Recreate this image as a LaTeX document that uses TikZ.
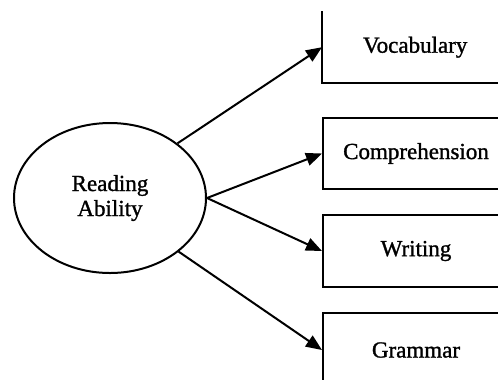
\documentclass[tikz,border=0pt]{standalone}
\usepackage{fontspec}
\setmainfont{Liberation Serif}[FakeBold=1.2]
\usetikzlibrary{arrows.meta,shapes.geometric}
\begin{document}
\begin{tikzpicture}[x=1bp,y=-1bp,
  every node/.style={font=\fontsize{23bp}{25bp}\selectfont},
  boxnode/.style={rectangle,minimum width=186bp,inner sep=0pt,anchor=north west},
  edge box/.style={draw,line width=2bp},
  conn/.style={line width=2bp,-{Triangle[length=16bp,width=13bp]}}]
\useasboundingbox (0,0) rectangle (498,379);
\clip (0,0) rectangle (498,379);
\node[ellipse,draw,line width=2bp,minimum width=192bp,minimum height=150bp,inner sep=0pt,align=center] (ra) at (110,198) {Reading\\Ability};
\node[boxnode,minimum height=72bp] (voc) at (322,11) {Vocabulary};
\draw[line width=2bp] (voc.north west) -- (voc.south west) -- (voc.south east);
\node[boxnode,edge box,minimum height=71bp] (com) at (322,117) {Comprehension};
\node[boxnode,edge box,minimum height=72bp] (wri) at (322,214) {Writing};
\node[boxnode,edge box,minimum height=74bp] (gra) at (322,312) {Grammar};
\draw[conn] (ra.39) -- (voc.west);
\draw[conn] (ra.east) -- (com.west);
\draw[conn] (ra.east) -- (wri.west);
\draw[conn] (ra.-38) -- (gra.west);
\end{tikzpicture}
\end{document}
